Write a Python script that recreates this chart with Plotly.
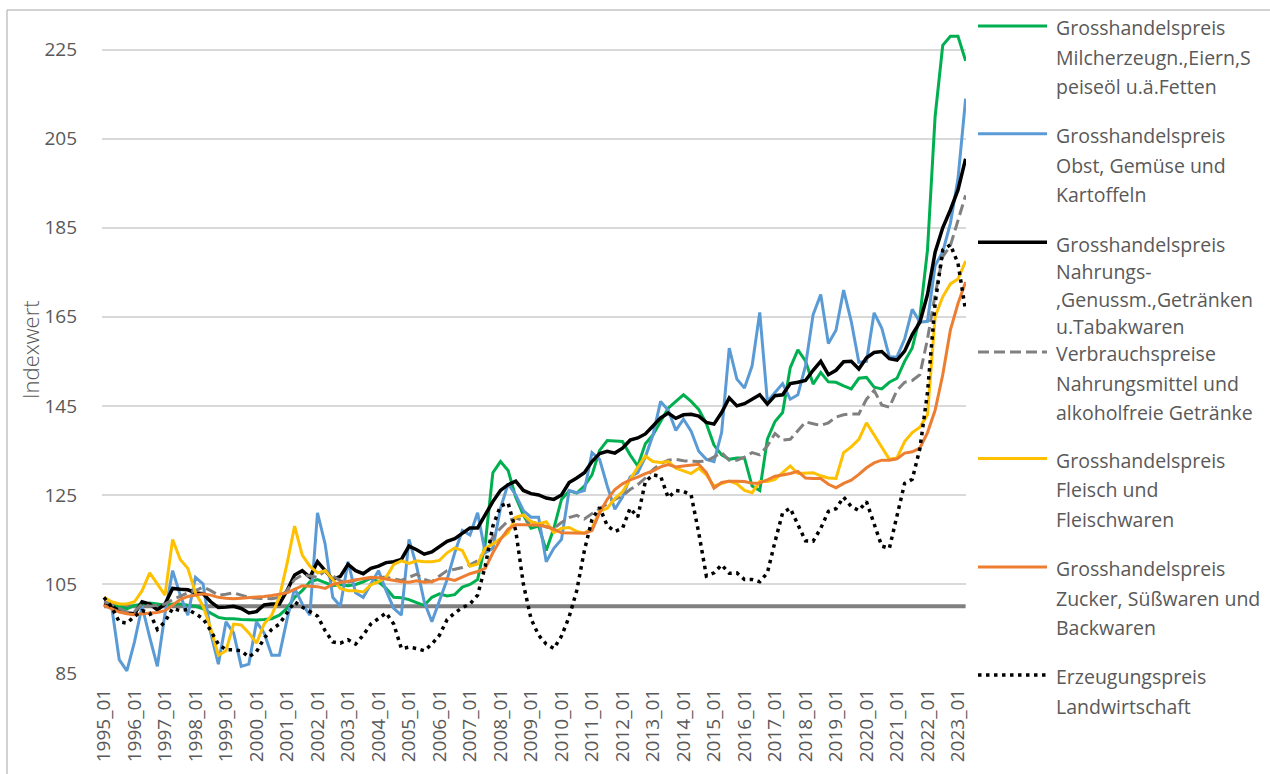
import plotly.graph_objects as go

# ---------------- data (quarterly readings) ----------------
PERIODS = [f"{y}_{m:02d}" for y in range(1995, 2024) for m in (1, 4, 7, 10)][:114]
TICK_LABELS = [f"{y}_01" for y in range(1995, 2024)]
Y_TICKS = [85, 105, 125, 145, 165, 185, 205, 225]
BASELINE = 100

milch = [100.2, 100.2, 100, 99.4, 100.2, 100.5, 100.7, 100.5, 100.2, 100.5, 100.5, 100.2, 100, 99.4, 98.5, 97.5,
         97.2, 97.2, 97, 96.9, 96.9, 97, 97.2, 98, 99.5, 102, 103.5, 105.5, 106,
         105.3, 104.6, 104.9, 104.6, 104.9, 105.5, 106.3, 105.5, 104, 102, 101.9, 101.5, 100.8, 100.2, 102, 102.8,
         102.3, 102.6, 104.3, 104.9, 106, 114, 130, 132.5, 130.5, 124.5, 120.5, 117.5,
         118, 112.5, 117.5, 124, 125.9, 125.4, 127, 129.5, 135, 137.2, 137.1, 137, 134, 131.5, 136.5, 138.5,
         141.5, 144.5, 146, 147.5, 146, 144.2, 141, 136.2, 134, 133, 133.3, 133.3,
         127, 126, 137.5, 141.5, 143.5, 153.6, 157.6, 155.1, 149.9, 152.5, 150.4, 150.3, 149.5, 148.8, 151.2,
         151.4, 149.2, 148.8, 150.3, 151.2, 155, 158, 165, 180, 210, 226, 228, 228, 222.5]

obst = [100.2, 100, 88, 85.5, 92, 100, 93, 86.5, 98.3, 108, 102.5, 98, 106.5, 105, 94, 87, 96.5, 94, 86.5, 87,
        96.5, 94, 89, 89, 97, 104, 100.5, 98, 121,
        114, 102, 100, 110, 103, 102, 105, 108, 103.5, 99.5, 98, 115, 109, 101, 96.5, 101.5, 106, 112, 117, 116,
        121, 112, 113, 122, 127.5, 125, 121.5, 120,
        120, 110, 113, 115, 126, 125.5, 126, 134.5, 133, 127, 121.8, 124.5, 129, 130, 133.5, 138.5, 146, 144,
        139.5, 142, 139.3, 134.8, 133, 132.5, 139, 158, 151, 149,
        154, 166, 146, 148, 150, 146.5, 147.5, 154, 165.5, 170, 159, 162, 171, 164, 154.8, 155, 165.9, 162.5,
        156, 156, 160, 166.7, 163.8, 164, 176.5, 179.6, 186, 196, 214]

nahrung = [100.5, 100, 99, 98.5, 98.3, 101, 100.5, 99.2, 100.5, 104, 103.8, 103.7, 103, 102.8, 101, 99.7, 99.8,
           100, 99.5, 98.5, 98.8, 100.3, 100.5, 100.5, 103.5, 107, 108, 106.5, 110,
           108, 106, 106.7, 109.4, 108, 107.3, 108.5, 109, 109.8, 110, 110.5, 113.5, 112.7, 111.7, 112.2, 113.3,
           114.6, 115.2, 116.5, 117.6, 117.6, 120.5, 123.5, 126, 127.3, 128.1, 126, 125.3,
           125, 124.3, 124, 125, 127.8, 128.8, 130, 132.5, 134.3, 134.8, 134.4, 135.5, 137.3, 137.8, 138.7, 140.5,
           142.3, 143.4, 142.2, 143, 143.1, 142.7, 141.3, 140.9, 143.5, 146.8, 145, 145.5,
           146.5, 147.5, 145.4, 147.3, 147.5, 150, 150.3, 150.7, 153, 155, 152, 153, 154.9, 155, 153.3, 155.8,
           157, 157.2, 155.6, 155.3, 157.3, 161, 163.8, 170, 179.5, 185, 189, 193.5, 200.5]

verbrauch = [101, 100.5, 99.5, 98.7, 98.8, 100.5, 100, 100.3, 100.5, 101.5, 102.3, 103, 103.5, 104.3, 103.5, 102.5,
             102.7, 103, 102.5, 102, 101.8, 101.7, 101.7, 102, 103.5, 106, 107, 106.8, 106.5,
             108, 106.8, 105.7, 105.4, 105.9, 106.1, 106.3, 106.5, 106.5, 106.2, 105.8, 106.5, 107.2, 106, 105.5,
             106.8, 108, 108.3, 108.7, 109.3, 110.2, 112.5, 115.5, 117.5, 119.2, 119.8, 119.3, 119,
             118.5, 117.8, 117.5, 118.8, 119.9, 120.4, 119.6, 120.8, 122, 123, 124, 124.8, 126.2, 127.3, 128.8,
             130.7, 132, 132.8, 133, 132.7, 132.6, 132.5, 132.6, 133.5, 134.5, 132.8, 132.8, 133.5,
             134.5, 134, 136, 138.8, 137.3, 137.5, 139.5, 141.4, 141, 140.6, 141.2, 142.5, 143, 143.2, 143.2, 146.5,
             148.5, 145.2, 144.7, 148.5, 150.3, 150.7, 152, 160, 170, 178.5, 181, 186.5, 192.3]

fleisch = [102, 101, 100.5, 100.5, 101, 103.5, 107.5, 105, 102.5, 115, 110.5, 108.5, 103, 100, 95, 89, 90, 96, 95.8,
           94, 91.7, 96, 98, 102, 109.5, 118, 111.5, 109, 107.5,
           108, 106, 104, 103.5, 103.5, 103.2, 104.8, 105.5, 106.5, 109.4, 110.2, 109.6, 110.2, 110, 110, 110.3,
           112, 113.1, 112.5, 109, 109.5, 113, 114, 115.2, 116.5, 120, 120.5, 119,
           118.5, 119, 116.5, 117.5, 117.7, 116.8, 116.4, 117.5, 121.3, 122, 124.2, 125.7, 128.5, 131.2, 133.7,
           132.5, 132.3, 132.5, 131, 130.4, 129.8, 131, 129.5, 127, 127.5, 128.1, 127.5, 126,
           125.5, 128, 128, 128.5, 130, 131.5, 129.8, 129.9, 130, 129.3, 128.8, 128.7, 134.5, 135.8, 137.5, 141.2,
           138.5, 135.8, 133, 133.3, 137, 139, 140.2, 143, 165, 169.5, 172.4, 173.5, 177.5]

zucker = [100.2, 99.5, 98.7, 98.3, 98.1, 98.3, 98.4, 98.6, 99, 100.2, 101.5, 102.2, 102.5, 102.8, 102.5, 102,
          101.8, 101.7, 101.8, 101.9, 102, 102.2, 102.4, 102.7, 103, 103.8, 104.6, 104.5, 104.4,
          104, 104.9, 105.3, 105.6, 105.9, 106.3, 106.5, 106.4, 106.1, 105.8, 105.5, 105.4, 105.7, 105.4, 105.5,
          106.2, 106.2, 105.8, 106.5, 107.3, 107.8, 108.5, 112, 115, 117.3, 118.3, 118.3, 118.2,
          118.2, 117.9, 117.3, 116.5, 116.5, 116.5, 116.4, 117, 121, 124, 126.2, 127.5, 128.4, 129, 129.8, 130.4,
          131.3, 131.8, 131.3, 131.5, 131.7, 131.9, 130, 126.5, 127.8, 128.1, 128.1, 128,
          127.6, 127.7, 128.4, 129.2, 129.5, 129.8, 130.3, 128.8, 128.7, 128.7, 127.4, 126.6, 127.6, 128.3, 129.6,
          131.1, 132.2, 132.8, 132.8, 133.1, 134.4, 134.7, 135.5, 139, 144, 152, 162, 168, 172.8]

erzeugung = [102, 99.8, 96.5, 96.2, 97.7, 99, 98.5, 94.8, 96.5, 99.5, 99, 99.3, 98.3, 97.2, 94.5, 91.5, 90.2,
             90.2, 90, 88.6, 89.8, 92.8, 94.8, 96, 98.5, 101, 99.8, 98.8, 97.8,
             94.5, 92, 91.7, 92.5, 91.5, 93.5, 96, 97.2, 98.5, 96, 90.5, 90.8, 90.5, 90, 91.5, 93.5, 97, 98.5, 99.7,
             100.5, 102.5, 109, 118, 122.5, 123.2, 117, 105, 97.2,
             93.5, 91.5, 90.5, 93.3, 97.6, 103.5, 112.5, 119.5, 122.2, 118.1, 116.8, 117.5, 122, 120, 128, 129.5,
             129.2, 124.4, 126, 125.8, 125, 116.5, 106.8, 107.5, 109.3, 107.4, 107.5, 106,
             106, 105.5, 107.5, 114.5, 121, 122, 118.5, 114.7, 114.6, 117.5, 121.3, 121.9, 124.5, 122.4, 121.5,
             123.5, 118.5, 113.5, 113, 120, 127.6, 128.5, 135.4, 148, 168, 180, 181.2, 177, 166.4]

SERIES = [
    (milch, ["Grosshandelspreis", "Milcherzeugn.,Eiern,S", "peiseöl u.ä.Fetten"], "#00B050", "solid", 3),
    (obst, ["Grosshandelspreis", "Obst, Gemüse und", "Kartoffeln"], "#5B9BD5", "solid", 3),
    (nahrung, ["Grosshandelspreis", "Nahrungs-", ",Genussm.,Getränken", "u.Tabakwaren"], "#000000", "solid", 3.5),
    (verbrauch, ["Verbrauchspreise", "Nahrungsmittel und", "alkoholfreie Getränke"], "#808080", "11px,5px", 3),
    (fleisch, ["Grosshandelspreis", "Fleisch und", "Fleischwaren"], "#FFC000", "solid", 3),
    (zucker, ["Grosshandelspreis", "Zucker, Süßwaren und", "Backwaren"], "#ED7D31", "solid", 3),
    (erzeugung, ["Erzeugungspreis", "Landwirtschaft"], "#000000", "3.5px,4.5px", 3.5),
]

# ---------------- geometry helpers (pixel -> paper) ----------------
W, H = 1270, 774
ML, MR, MT, MB = 102, 304, 12, 96
PW, PH = W - ML - MR, H - MT - MB


def xp(px):
    return (px - ML) / PW


def yp(py):
    return (H - MB - py) / PH


TEXT = "#595959"
FONT = "Open Sans"

fig = go.Figure()
fig.add_trace(go.Scatter(x=PERIODS, y=[BASELINE] * len(PERIODS), mode="lines",
                         line=dict(color="#808080", width=4), showlegend=False, hoverinfo="skip"))
for vals, lines, color, dash, width in SERIES:
    fig.add_trace(go.Scatter(x=PERIODS, y=vals, mode="lines", name=" ".join(lines),
                             line=dict(color=color, width=width, dash=dash), showlegend=False))

# manual legend (Excel-like fixed slots)
LEGEND_TOP = [28.0, 136.6, 245.6, 356.0, 463.3, 572.3, 680.9]
LINE_STEPS = [29.5, 29.5, 27.6, 29.5, 29.5, 29.5, 29.5]
shapes = []
annotations = []
for (vals, lines, color, dash, width), ytop, step in zip(SERIES, LEGEND_TOP, LINE_STEPS):
    shapes.append(dict(type="line", xref="paper", yref="paper", x0=xp(978), x1=xp(1047),
                       y0=yp(ytop - 2), y1=yp(ytop - 2), line=dict(color=color, width=width, dash=dash)))
    for i, t in enumerate(lines):
        annotations.append(dict(text=t, xref="paper", yref="paper", x=xp(1055), y=yp(ytop + i * step),
                                xanchor="left", yanchor="middle", showarrow=False, borderpad=0,
                                font=dict(family=FONT, size=19.5, color=TEXT)))

# chart border (partially cropped in the reference)
shapes.append(dict(type="rect", xref="paper", yref="paper", x0=xp(7), x1=xp(1300), y0=yp(800), y1=yp(10),
                   line=dict(color="#A6A6A6", width=1), layer="below"))

annotations.append(dict(text="Indexwert", xref="paper", yref="paper", x=xp(30), y=yp(352), textangle=-90,
                        xanchor="center", yanchor="middle", showarrow=False,
                        font=dict(family=FONT, size=22, color=TEXT, weight=300)))

fig.update_layout(
    width=W, height=H, autosize=False,
    margin=dict(l=ML, r=MR, t=MT, b=MB, pad=0),
    paper_bgcolor="white", plot_bgcolor="white",
    font=dict(family=FONT, color=TEXT, size=19),
    shapes=shapes, annotations=annotations,
    showlegend=False,
)
fig.update_xaxes(type="category", categoryorder="array", categoryarray=PERIODS,
                 range=[-0.26, 113.05], tickmode="array", tickvals=TICK_LABELS, ticktext=TICK_LABELS,
                 tickangle=-90, showgrid=False, zeroline=False, showline=False, ticks="",
                 ticklabelstandoff=10, tickfont=dict(family=FONT, size=19, color=TEXT))
fig.update_yaxes(range=[84.78, 233.47], tickmode="array", tickvals=Y_TICKS, showgrid=True,
                 gridcolor="#D9D9D9", gridwidth=1.5, zeroline=False, showline=False, ticks="",
                 ticklabelstandoff=24, tickfont=dict(family=FONT, size=19, color=TEXT))

fig.write_html("out.html", config={"displayModeBar": False},
               post_script="document.body.style.margin='0';document.body.style.overflow='hidden';")
